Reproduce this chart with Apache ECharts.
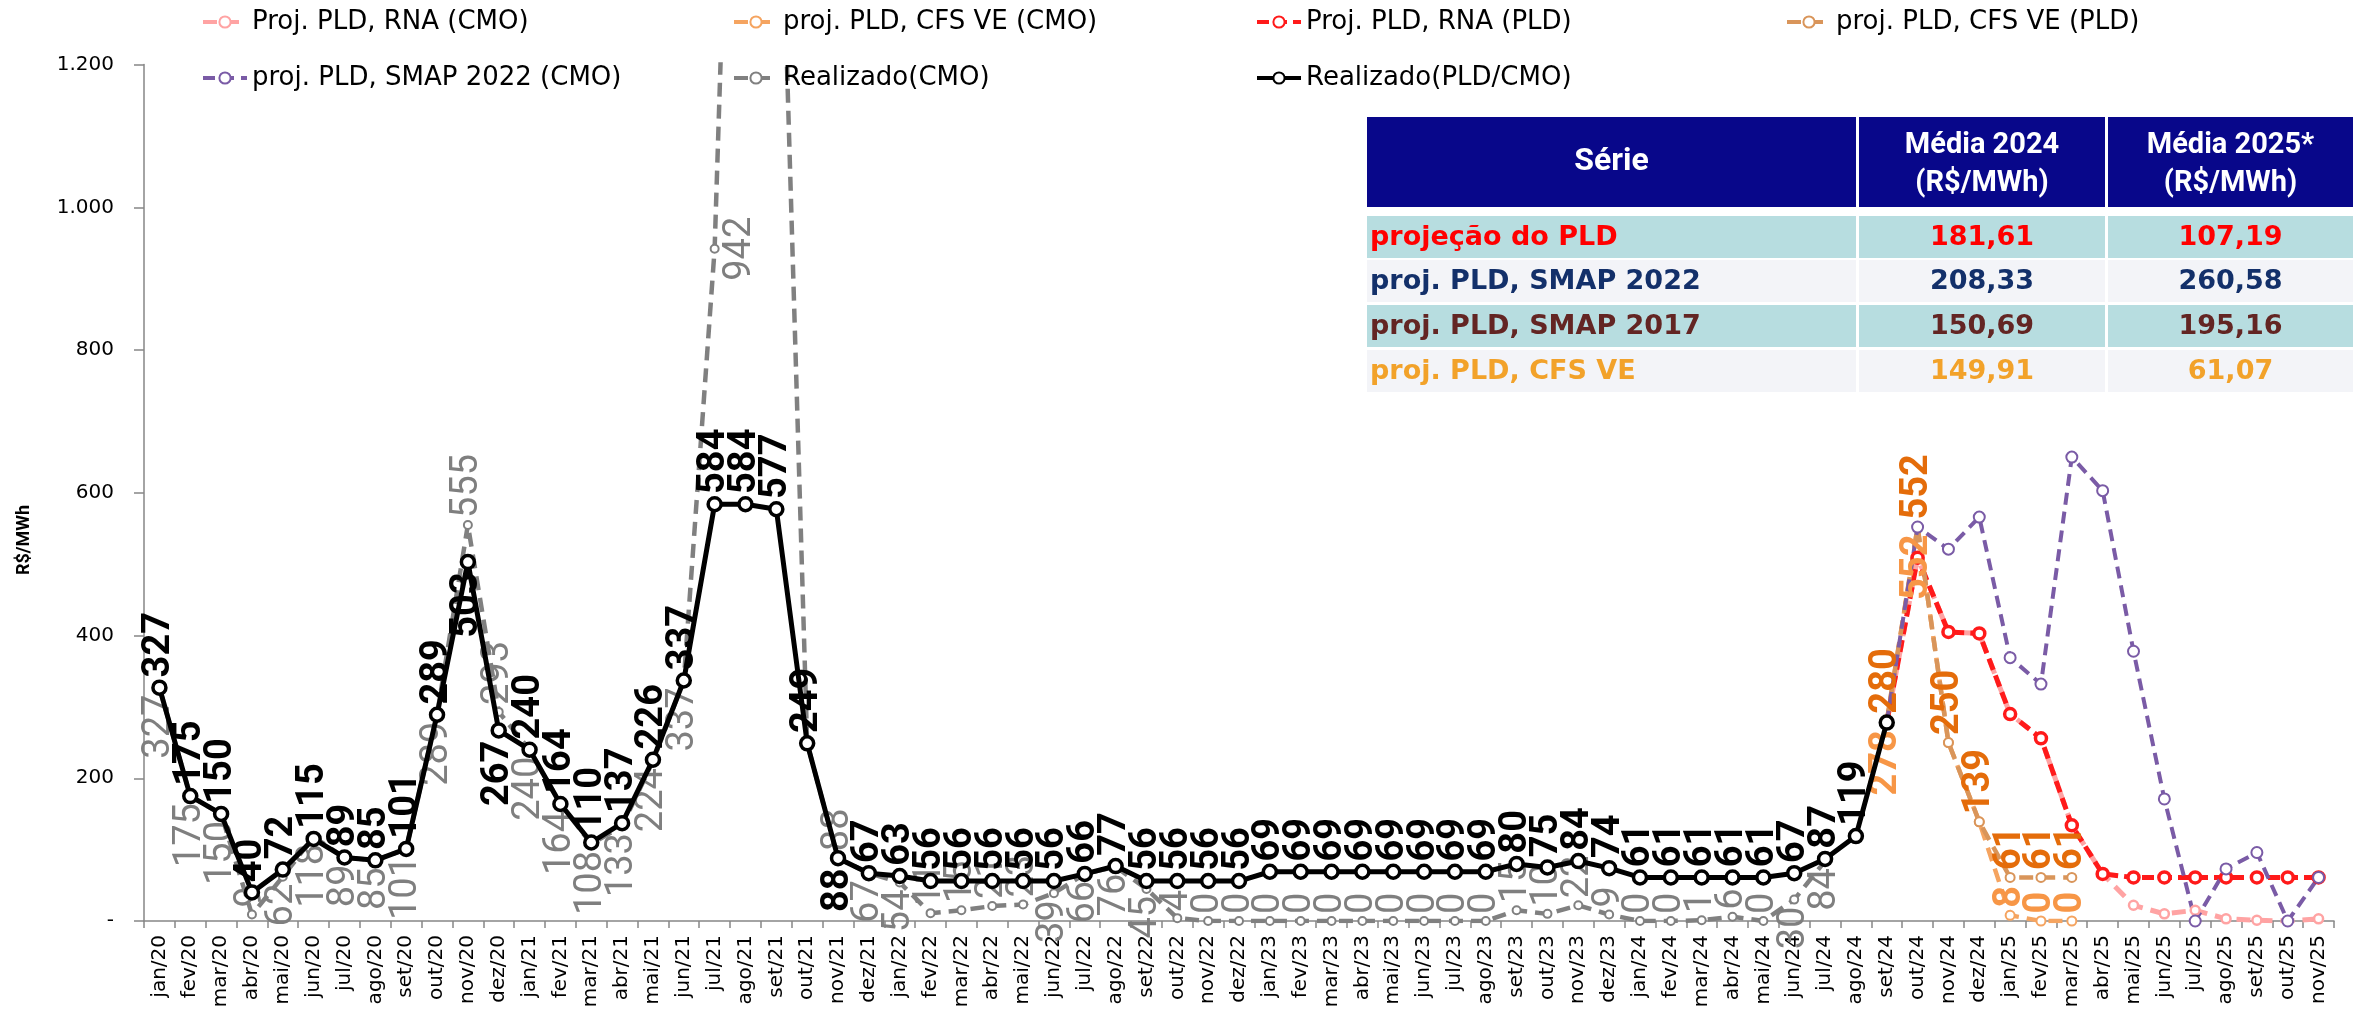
<!DOCTYPE html>
<html>
<head>
<meta charset="utf-8">
<title>PLD realizado e projeções</title>
<script src="https://cdn.jsdelivr.net/npm/echarts@6/dist/echarts.min.js"></script>
<style>
html, body { margin: 0; padding: 0; background: #fff; }
#grafico { width: 2356px; height: 1010px; }
</style>
</head>
<body>
<div id="grafico"></div>
<script>
// eixo x (meses)
var meses = [
  'jan/20','fev/20','mar/20','abr/20','mai/20','jun/20','jul/20','ago/20','set/20','out/20','nov/20','dez/20',
  'jan/21','fev/21','mar/21','abr/21','mai/21','jun/21','jul/21','ago/21','set/21','out/21','nov/21','dez/21',
  'jan/22','fev/22','mar/22','abr/22','mai/22','jun/22','jul/22','ago/22','set/22','out/22','nov/22','dez/22',
  'jan/23','fev/23','mar/23','abr/23','mai/23','jun/23','jul/23','ago/23','set/23','out/23','nov/23','dez/23',
  'jan/24','fev/24','mar/24','abr/24','mai/24','jun/24','jul/24','ago/24','set/24','out/24','nov/24','dez/24',
  'jan/25','fev/25','mar/25','abr/25','mai/25','jun/25','jul/25','ago/25','set/25','out/25','nov/25'
];

// Realizado(PLD/CMO)
var realizadoPLD = [
  327, 175, 150, 40, 72, 115, 89, 85, 101, 289, 503, 267,
  240, 164, 110, 137, 226, 337, 584, 584, 577, 249, 88, 67,
  63, 56, 56, 56, 56, 56, 66, 77, 56, 56, 56, 56,
  69, 69, 69, 69, 69, 69, 69, 69, 80, 75, 84, 74,
  61, 61, 61, 61, 61, 67, 87, 119, 278, null, null, null,
  null, null, null, null, null, null, null, null, null, null, null
];

// Realizado(CMO)
var realizadoCMO = [
  327, 175, 150, 9, 62, 118, 89, 85, 101, 289, 555, 293,
  240, 164, 108, 133, 224, 337, 942, 2300, 1700, 249, 88, 67,
  54, 11, 15, 21, 23, 39, 66, 76, 45, 4, 0, 0,
  0, 0, 0, 0, 0, 0, 0, 0, 15, 10, 22, 9,
  0, 0, 1, 6, 0, 30, 84, null, null, null, null, null,
  null, null, null, null, null, null, null, null, null, null, null
];

// projeções: começam em set/24
var inicioProj = 56;
var rnaPLD   = [278, 509, 405, 403, 290, 256, 134, 66, 61, 61, 61, 61, 61, 61, 61];
var rnaCMO   = [278, 509, 405, 403, 290, 256, 134, 66, 22, 10, 15, 3, 1, 0, 3];
var smap2022 = [278, 552, 521, 566, 369, 332, 650, 603, 378, 171, 0, 73, 96, 0, 61];
var cfsPLD   = [280, 552, 250, 139, 61, 61, 61];
var cfsCMO   = [278, 552, 250, 139, 8, 0, 0];

// tabela de médias
var tabelaSerie = ['projeção do PLD', 'proj. PLD, SMAP 2022', 'proj. PLD, SMAP 2017', 'proj. PLD, CFS VE'];
var media2024 = ['181,61', '208,33', '150,69', '149,91'];
var media2025 = ['107,19', '260,58', '195,16', '61,07'];

var myChart = echarts.init(document.getElementById('grafico'));

var fonteRotulo = "'Liberation Sans Narrow', Roboto, sans-serif";
function rotulo(pos, cor, negrito) {
  var r = {
    show: true, position: pos, rotate: 90, distance: 2, color: cor,
    fontFamily: fonteRotulo, fontSize: 38, fontWeight: negrito ? 'bold' : 'normal'
  };
  if (pos == 'top') { r.align = 'left'; r.verticalAlign = 'middle'; }
  if (pos == 'bottom') { r.align = 'right'; r.verticalAlign = 'middle'; }
  if (pos == 'right') { r.align = 'center'; r.verticalAlign = 'top'; }
  return r;
}

// posições dos rótulos que fogem do padrão
var pretoPos = {10: 'bottom', 11: 'bottom', 22: 'bottom'};
var pretoOculto = [56];
var cinzaPos = {10: 'top', 11: 'top', 18: 'right', 22: 'top'};
var cinzaOculto = [19, 20, 21];

function serieRealizado(vals, fnRotulo) {
  return vals.map(function(v, i) {
    if (v == null) return '-';
    return {value: v, label: fnRotulo(v, i)};
  });
}
function serieProj(vals, fnRotulo) {
  return meses.map(function(m, i) {
    var k = i - inicioProj;
    if (k < 0 || k >= vals.length || vals[k] == null) return '-';
    var item = {value: vals[k]};
    if (fnRotulo) item.label = fnRotulo(vals[k], k);
    return item;
  });
}

var dadosPreto = serieRealizado(realizadoPLD, function(v, i) {
  if (pretoOculto.indexOf(i) >= 0) return {show: false};
  return rotulo(pretoPos[i] || 'top', '#000', true);
});
var dadosCinza = serieRealizado(realizadoCMO, function(v, i) {
  if (cinzaOculto.indexOf(i) >= 0) return {show: false};
  var p = cinzaPos[i] || (v < 30 ? 'top' : 'bottom');
  return rotulo(p, '#7F7F7F', false);
});
var dadosCfsPLD = serieProj(cfsPLD, function(v, k) {
  return rotulo('top', '#E46C0A', true);
});
var dadosCfsCMO = serieProj(cfsCMO, function(v, k) {
  if (k == 2 || k == 3) return {show: false};
  return rotulo(k < 2 ? 'bottom' : 'top', '#F79646', true);
});

function linha(nome, dados, cor, largura, tracejado, tamSimbolo, borda, z) {
  return {
    name: nome, type: 'line', data: dados, z: z || 2,
    symbol: 'circle', symbolSize: tamSimbolo, showAllSymbol: true,
    lineStyle: {color: cor, width: largura, type: tracejado},
    itemStyle: {color: '#fff', borderColor: cor, borderWidth: borda},
    emphasis: {disabled: true},
    clip: true
  };
}

// tabela desenhada com graphic
var tabX = [1367, 1859, 2108, 2356];
var tabCorFundo = ['#B7DDE0', '#F3F4F8', '#B7DDE0', '#F3F4F8'];
var tabCorTexto = ['#FF0000', '#13306A', '#632523', '#F2A22A'];
var tabLinhaY = [216, 260, 305, 350];
var graficos = [];
for (var c = 0; c < 3; c++) {
  graficos.push({type: 'rect', shape: {x: tabX[c], y: 117, width: tabX[c + 1] - tabX[c] - 3, height: 90}, style: {fill: '#08078A'}});
}
var fonteCab = 'Roboto, sans-serif';
var fonteTab = "'DejaVu Sans', sans-serif";
function textoCab(txt, x, y, tam) {
  return {type: 'text', x: x, y: y, style: {text: txt, fill: '#fff', fontSize: tam, fontWeight: 'bold', fontFamily: fonteCab, align: 'center', verticalAlign: 'middle'}};
}
graficos.push(textoCab('Série', (tabX[0] + tabX[1] - 3) / 2, 162, 32));
graficos.push(textoCab('Média 2024', (tabX[1] + tabX[2] - 3) / 2, 146, 29));
graficos.push(textoCab('(R$/MWh)', (tabX[1] + tabX[2] - 3) / 2, 184, 29));
graficos.push(textoCab('Média 2025*', (tabX[2] + tabX[3] - 3) / 2, 146, 29));
graficos.push(textoCab('(R$/MWh)', (tabX[2] + tabX[3] - 3) / 2, 184, 29));
for (var r = 0; r < tabelaSerie.length; r++) {
  for (var c2 = 0; c2 < 3; c2++) {
    graficos.push({type: 'rect', shape: {x: tabX[c2], y: tabLinhaY[r], width: tabX[c2 + 1] - tabX[c2] - 3, height: 42}, style: {fill: tabCorFundo[r]}});
  }
  var cy = tabLinhaY[r] + 22;
  var st = {fill: tabCorTexto[r], fontSize: 27, fontWeight: 'bold', fontFamily: fonteTab, verticalAlign: 'middle'};
  graficos.push({type: 'text', x: tabX[0] + 3, y: cy, style: Object.assign({text: tabelaSerie[r], align: 'left'}, st)});
  graficos.push({type: 'text', x: (tabX[1] + tabX[2] - 3) / 2, y: cy, style: Object.assign({text: media2024[r], align: 'center'}, st)});
  graficos.push({type: 'text', x: (tabX[2] + tabX[3] - 3) / 2, y: cy, style: Object.assign({text: media2025[r], align: 'center'}, st)});
}
// título do eixo y
graficos.push({type: 'text', x: 24, y: 540, rotation: Math.PI / 2, style: {text: 'R$/MWh', fill: '#000', fontSize: 18, fontWeight: 'bold', fontFamily: 'Roboto, sans-serif', align: 'center', verticalAlign: 'middle'}});

var estiloLegenda = {fontSize: 26, fontFamily: "'DejaVu Sans', sans-serif", color: '#000'};
function legenda(esq, nomes) {
  return {
    left: esq, top: 4, orient: 'vertical', itemGap: 30, itemWidth: 44, itemHeight: 14,
    selectedMode: false, textStyle: estiloLegenda, data: nomes,
    lineStyle: {width: 4}
  };
}

option = {
  animation: false,
  backgroundColor: '#fff',
  grid: {left: 144, right: 22, top: 64.6, bottom: 89, outerBoundsMode: 'none', containLabel: false},
  legend: [
    legenda(196, ['Proj. PLD, RNA (CMO)', 'proj. PLD, SMAP 2022 (CMO)']),
    legenda(727, ['proj. PLD, CFS VE (CMO)', 'Realizado(CMO)']),
    legenda(1250, ['Proj. PLD, RNA (PLD)', 'Realizado(PLD/CMO)']),
    legenda(1780, ['proj. PLD, CFS VE (PLD)'])
  ],
  xAxis: {
    type: 'category', data: meses, boundaryGap: true,
    axisLine: {lineStyle: {color: '#868686', width: 1.5}},
    axisTick: {show: true, length: 7, interval: 0, lineStyle: {color: '#868686', width: 1.5}},
    axisLabel: {interval: 0, rotate: 90, margin: 14, fontSize: 20, fontFamily: 'DejaVu Sans', color: '#000'},
    splitLine: {show: false}
  },
  yAxis: {
    type: 'value', min: 0, max: 1200, interval: 200,
    axisLine: {show: true, lineStyle: {color: '#868686', width: 1.5}},
    axisTick: {show: true, length: 10, lineStyle: {color: '#868686', width: 1.5}},
    axisLabel: {
      margin: 30, fontSize: 20, fontFamily: 'DejaVu Sans', color: '#000',
      formatter: function(v) {
        if (v == 0) return '-';
        return v >= 1000 ? Math.floor(v / 1000) + '.' + ('00' + (v % 1000)).slice(-3) : String(v);
      }
    },
    splitLine: {show: false}
  },
  graphic: graficos,
  series: [
    linha('Proj. PLD, RNA (CMO)', serieProj(rnaCMO), '#FFA3A3', 5, [14, 8], 9, 2.5),
    linha('proj. PLD, CFS VE (CMO)', dadosCfsCMO, '#F5A460', 4.5, [14, 8], 9, 2),
    linha('Proj. PLD, RNA (PLD)', serieProj(rnaPLD), '#FF1A1A', 5, [12, 6], 11, 3.5),
    linha('proj. PLD, CFS VE (PLD)', dadosCfsPLD, '#D9955A', 4.5, [14, 8], 9, 2),
    linha('proj. PLD, SMAP 2022 (CMO)', serieProj(smap2022), '#7A5BA6', 4, [12, 7], 11, 2),
    linha('Realizado(CMO)', dadosCinza, '#808080', 4.5, [14, 8], 8, 2),
    linha('Realizado(PLD/CMO)', dadosPreto, '#000000', 5, 'solid', 13, 3.5, 5)
  ]
};

myChart.setOption(option, true);
</script>
</body>
</html>
